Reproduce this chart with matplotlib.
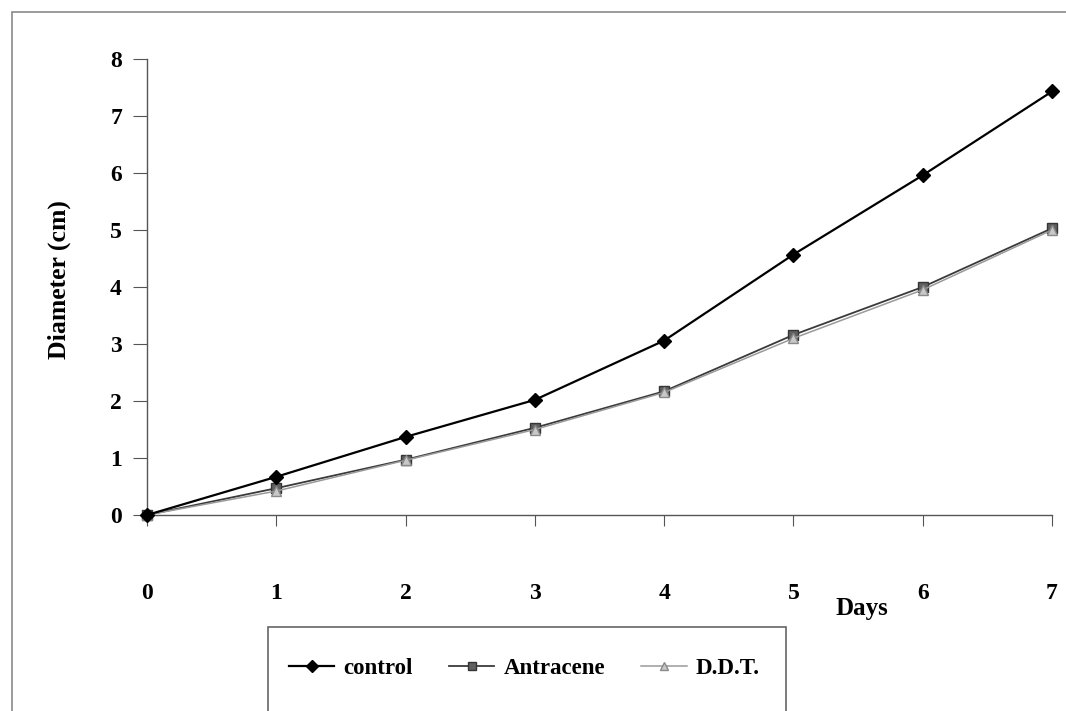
import matplotlib
matplotlib.use("Agg")
import matplotlib.pyplot as plt
from matplotlib.patches import Rectangle

days = [0, 1, 2, 3, 4, 5, 6, 7]
control = [0.0, 0.67, 1.37, 2.02, 3.06, 4.57, 5.96, 7.43]
antracene = [0.0, 0.47, 0.97, 1.53, 2.17, 3.16, 4.00, 5.03]
ddt = [0.0, 0.42, 0.96, 1.50, 2.15, 3.10, 3.95, 5.00]
yticks = [0, 1, 2, 3, 4, 5, 6, 7, 8]

plt.rcParams['font.family'] = ['Liberation Serif', 'DejaVu Serif']
plt.rcParams['font.weight'] = 'bold'

W, H = 1066, 711
fig = plt.figure(figsize=(W / 100, H / 100), dpi=100)
fig.patch.set_facecolor('white')

# outer chart-area frame
fig.patches.append(Rectangle((12 / W, -0.05), 1.2, 1 - 12 / H + 0.05,
                             transform=fig.transFigure, fill=False,
                             edgecolor='#8a8a8a', linewidth=1.2))

ax = fig.add_axes([147 / W, 1 - 515 / H, (1052 - 147) / W, (515 - 59) / H])
ax.set_xlim(0, 7)
ax.set_ylim(0, 8)
for s in ('top', 'right'):
    ax.spines[s].set_visible(False)
for s in ('left', 'bottom'):
    ax.spines[s].set_color('#555555')
    ax.spines[s].set_linewidth(1.0)

ax.plot(days, control, color='black', lw=1.6, marker='D', ms=7,
        mfc='black', mec='black', label='control', clip_on=False, zorder=3)
ax.plot(days, antracene, color='#3a3a3a', lw=1.3, marker='s', ms=7,
        mfc='#606060', mec='#353535', label='Antracene', clip_on=False, zorder=2)
ax.plot(days, ddt, color='#9a9a9a', lw=1.1, marker='^', ms=7,
        mfc='#c8c8c8', mec='#8a8a8a', label='D.D.T.', clip_on=False, zorder=2)

ax.set_xticks(days)
ax.set_yticks(yticks)
ax.tick_params(axis='x', direction='out', length=8, pad=41, labelsize=17,
               color='#555555')
ax.tick_params(axis='y', direction='out', length=10, pad=8, labelsize=17,
               color='#555555')
for lbl in ax.get_xticklabels() + ax.get_yticklabels():
    lbl.set_fontweight('bold')

ax.set_ylabel('Diameter (cm)', fontsize=18.5, fontweight='bold')
ax.yaxis.set_label_coords((71 - 147) / 905, (515 - 280) / 456)
fig.text(862 / W, 1 - 609 / H, 'Days', fontsize=18, fontweight='bold',
         ha='center', va='center')

# legend box
fig.patches.append(Rectangle((268 / W, -0.05), (786 - 268) / W, 0.05 + 1 - 627 / H,
                             transform=fig.transFigure, fill=False,
                             edgecolor='#666666', linewidth=1.2))
leg = fig.legend(loc='center left', bbox_to_anchor=(268 / W, 1 - 668 / H),
                 ncol=3, frameon=False, fontsize=16.5, handlelength=2.0,
                 columnspacing=1.55, handletextpad=0.4, markerscale=0.9)
for t in leg.get_texts():
    t.set_fontweight('bold')

fig.savefig('out.png', dpi=100, facecolor='white')
